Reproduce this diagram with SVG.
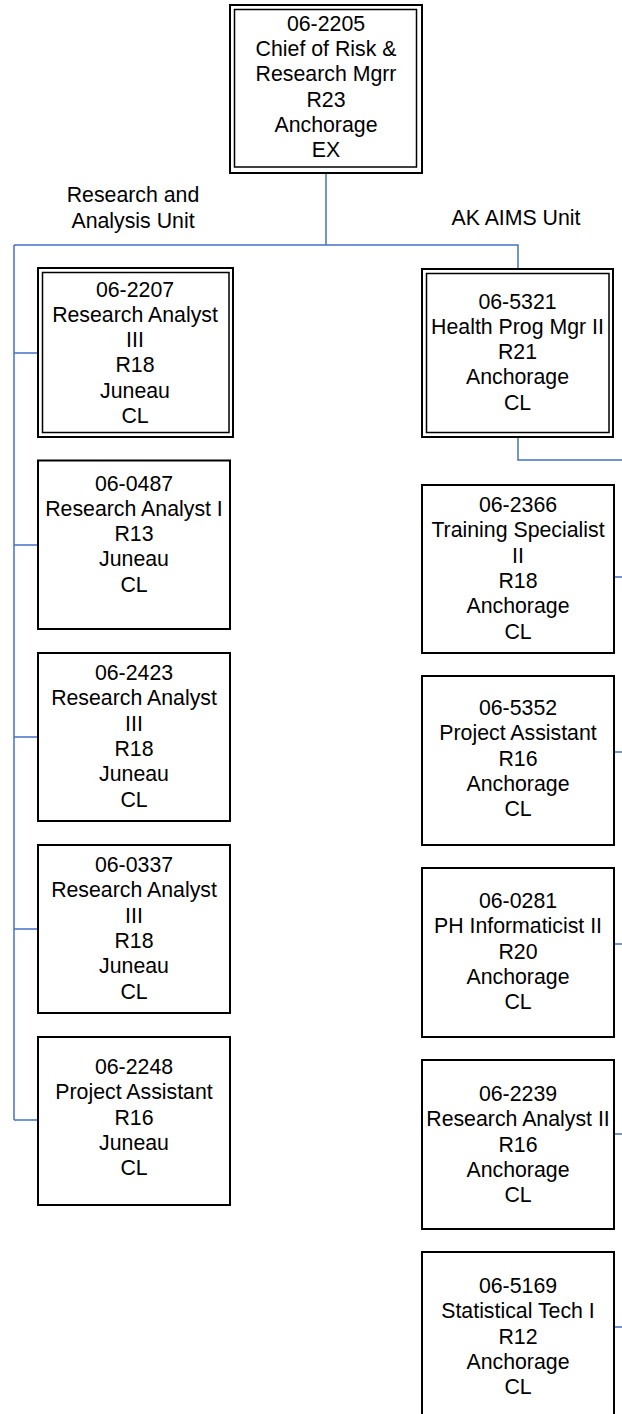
<svg xmlns="http://www.w3.org/2000/svg" width="622" height="1414" viewBox="0 0 622 1414">
<style>
.box{fill:#fff;stroke:#000;stroke-width:2}
.in{fill:none;stroke:#000;stroke-width:1.5}
.t{font-family:"Liberation Sans",Arial,sans-serif;font-size:21.3px;fill:#000;text-anchor:middle}
.c{fill:none;stroke:#4472C4;stroke-width:1.5}
</style>
<rect width="622" height="1414" fill="#fff"/>
<g id="connectors">
<path class="c" d="M326,173V245M14,245H518V269M14,245V1120"/>
<path class="c" d="M14,353H38M14,545H38M14,737H38M14,929H38M14,1120H38"/>
<path class="c" d="M518,437V460H622"/>
<path class="c" d="M614,577H622M614,752H622M614,944H622M614,1134H622M614,1327H622"/>
</g>
<g id="labels">
<text class="t" x="133" y="202">Research and</text>
<text class="t" x="133" y="228">Analysis Unit</text>
<text class="t" x="516" y="225">AK AIMS Unit</text>
</g>
<g id="n062205">
<rect class="box" x="230" y="5" width="192" height="168"/>
<rect class="in" x="234.5" y="9.5" width="182" height="157.5"/>
<text class="t" x="326" y="31">06-2205</text>
<text class="t" x="326" y="56.2">Chief of Risk &amp;</text>
<text class="t" x="326" y="81.4">Research Mgrr</text>
<text class="t" x="326" y="106.6">R23</text>
<text class="t" x="326" y="131.8">Anchorage</text>
<text class="t" x="326" y="157">EX</text>
</g>
<g id="n062207">
<rect class="box" x="38" y="268" width="195" height="169"/>
<rect class="in" x="42.5" y="272.5" width="186.5" height="160"/>
<text class="t" x="135" y="296.5">06-2207</text>
<text class="t" x="135" y="321.8">Research Analyst</text>
<text class="t" x="135" y="347.1">III</text>
<text class="t" x="135" y="372.4">R18</text>
<text class="t" x="135" y="397.7">Juneau</text>
<text class="t" x="135" y="423">CL</text>
</g>
<g id="n060487">
<rect class="box" x="38" y="460.5" width="192" height="168.5"/>
<text class="t" x="134" y="490.5">06-0487</text>
<text class="t" x="134" y="515.8">Research Analyst I</text>
<text class="t" x="134" y="541.1">R13</text>
<text class="t" x="134" y="566.4">Juneau</text>
<text class="t" x="134" y="591.7">CL</text>
</g>
<g id="n062423">
<rect class="box" x="38" y="653" width="192" height="168"/>
<text class="t" x="134" y="680">06-2423</text>
<text class="t" x="134" y="705.3">Research Analyst</text>
<text class="t" x="134" y="730.6">III</text>
<text class="t" x="134" y="755.9">R18</text>
<text class="t" x="134" y="781.2">Juneau</text>
<text class="t" x="134" y="806.5">CL</text>
</g>
<g id="n060337">
<rect class="box" x="38" y="845" width="192" height="168"/>
<text class="t" x="134" y="872">06-0337</text>
<text class="t" x="134" y="897.3">Research Analyst</text>
<text class="t" x="134" y="922.6">III</text>
<text class="t" x="134" y="947.9">R18</text>
<text class="t" x="134" y="973.2">Juneau</text>
<text class="t" x="134" y="998.5">CL</text>
</g>
<g id="n062248">
<rect class="box" x="38" y="1037" width="192" height="168"/>
<text class="t" x="134" y="1074">06-2248</text>
<text class="t" x="134" y="1099.3">Project Assistant</text>
<text class="t" x="134" y="1124.6">R16</text>
<text class="t" x="134" y="1149.9">Juneau</text>
<text class="t" x="134" y="1175.2">CL</text>
</g>
<g id="n065321">
<rect class="box" x="422" y="269" width="191" height="168"/>
<rect class="in" x="426.5" y="273.5" width="182.5" height="159"/>
<text class="t" x="517.5" y="308.5">06-5321</text>
<text class="t" x="517.5" y="333.8">Health Prog Mgr II</text>
<text class="t" x="517.5" y="359.1">R21</text>
<text class="t" x="517.5" y="384.4">Anchorage</text>
<text class="t" x="517.5" y="409.7">CL</text>
</g>
<g id="n062366">
<rect class="box" x="422" y="485" width="192" height="168"/>
<text class="t" x="518" y="512">06-2366</text>
<text class="t" x="518" y="537.3">Training Specialist</text>
<text class="t" x="518" y="562.6">II</text>
<text class="t" x="518" y="587.9">R18</text>
<text class="t" x="518" y="613.2">Anchorage</text>
<text class="t" x="518" y="638.5">CL</text>
</g>
<g id="n065352">
<rect class="box" x="422" y="676" width="192" height="169"/>
<text class="t" x="518" y="715">06-5352</text>
<text class="t" x="518" y="740.3">Project Assistant</text>
<text class="t" x="518" y="765.6">R16</text>
<text class="t" x="518" y="790.9">Anchorage</text>
<text class="t" x="518" y="816.2">CL</text>
</g>
<g id="n060281">
<rect class="box" x="422" y="868" width="192" height="169"/>
<text class="t" x="518" y="908">06-0281</text>
<text class="t" x="518" y="933.3">PH Informaticist II</text>
<text class="t" x="518" y="958.6">R20</text>
<text class="t" x="518" y="983.9">Anchorage</text>
<text class="t" x="518" y="1009.2">CL</text>
</g>
<g id="n062239">
<rect class="box" x="422" y="1060" width="192" height="169"/>
<text class="t" x="518" y="1101">06-2239</text>
<text class="t" x="518" y="1126.3">Research Analyst II</text>
<text class="t" x="518" y="1151.6">R16</text>
<text class="t" x="518" y="1176.9">Anchorage</text>
<text class="t" x="518" y="1202.2">CL</text>
</g>
<g id="n065169">
<rect class="box" x="422" y="1252" width="192" height="169"/>
<text class="t" x="518" y="1293">06-5169</text>
<text class="t" x="518" y="1318.3">Statistical Tech I</text>
<text class="t" x="518" y="1343.6">R12</text>
<text class="t" x="518" y="1368.9">Anchorage</text>
<text class="t" x="518" y="1394.2">CL</text>
</g>
</svg>
